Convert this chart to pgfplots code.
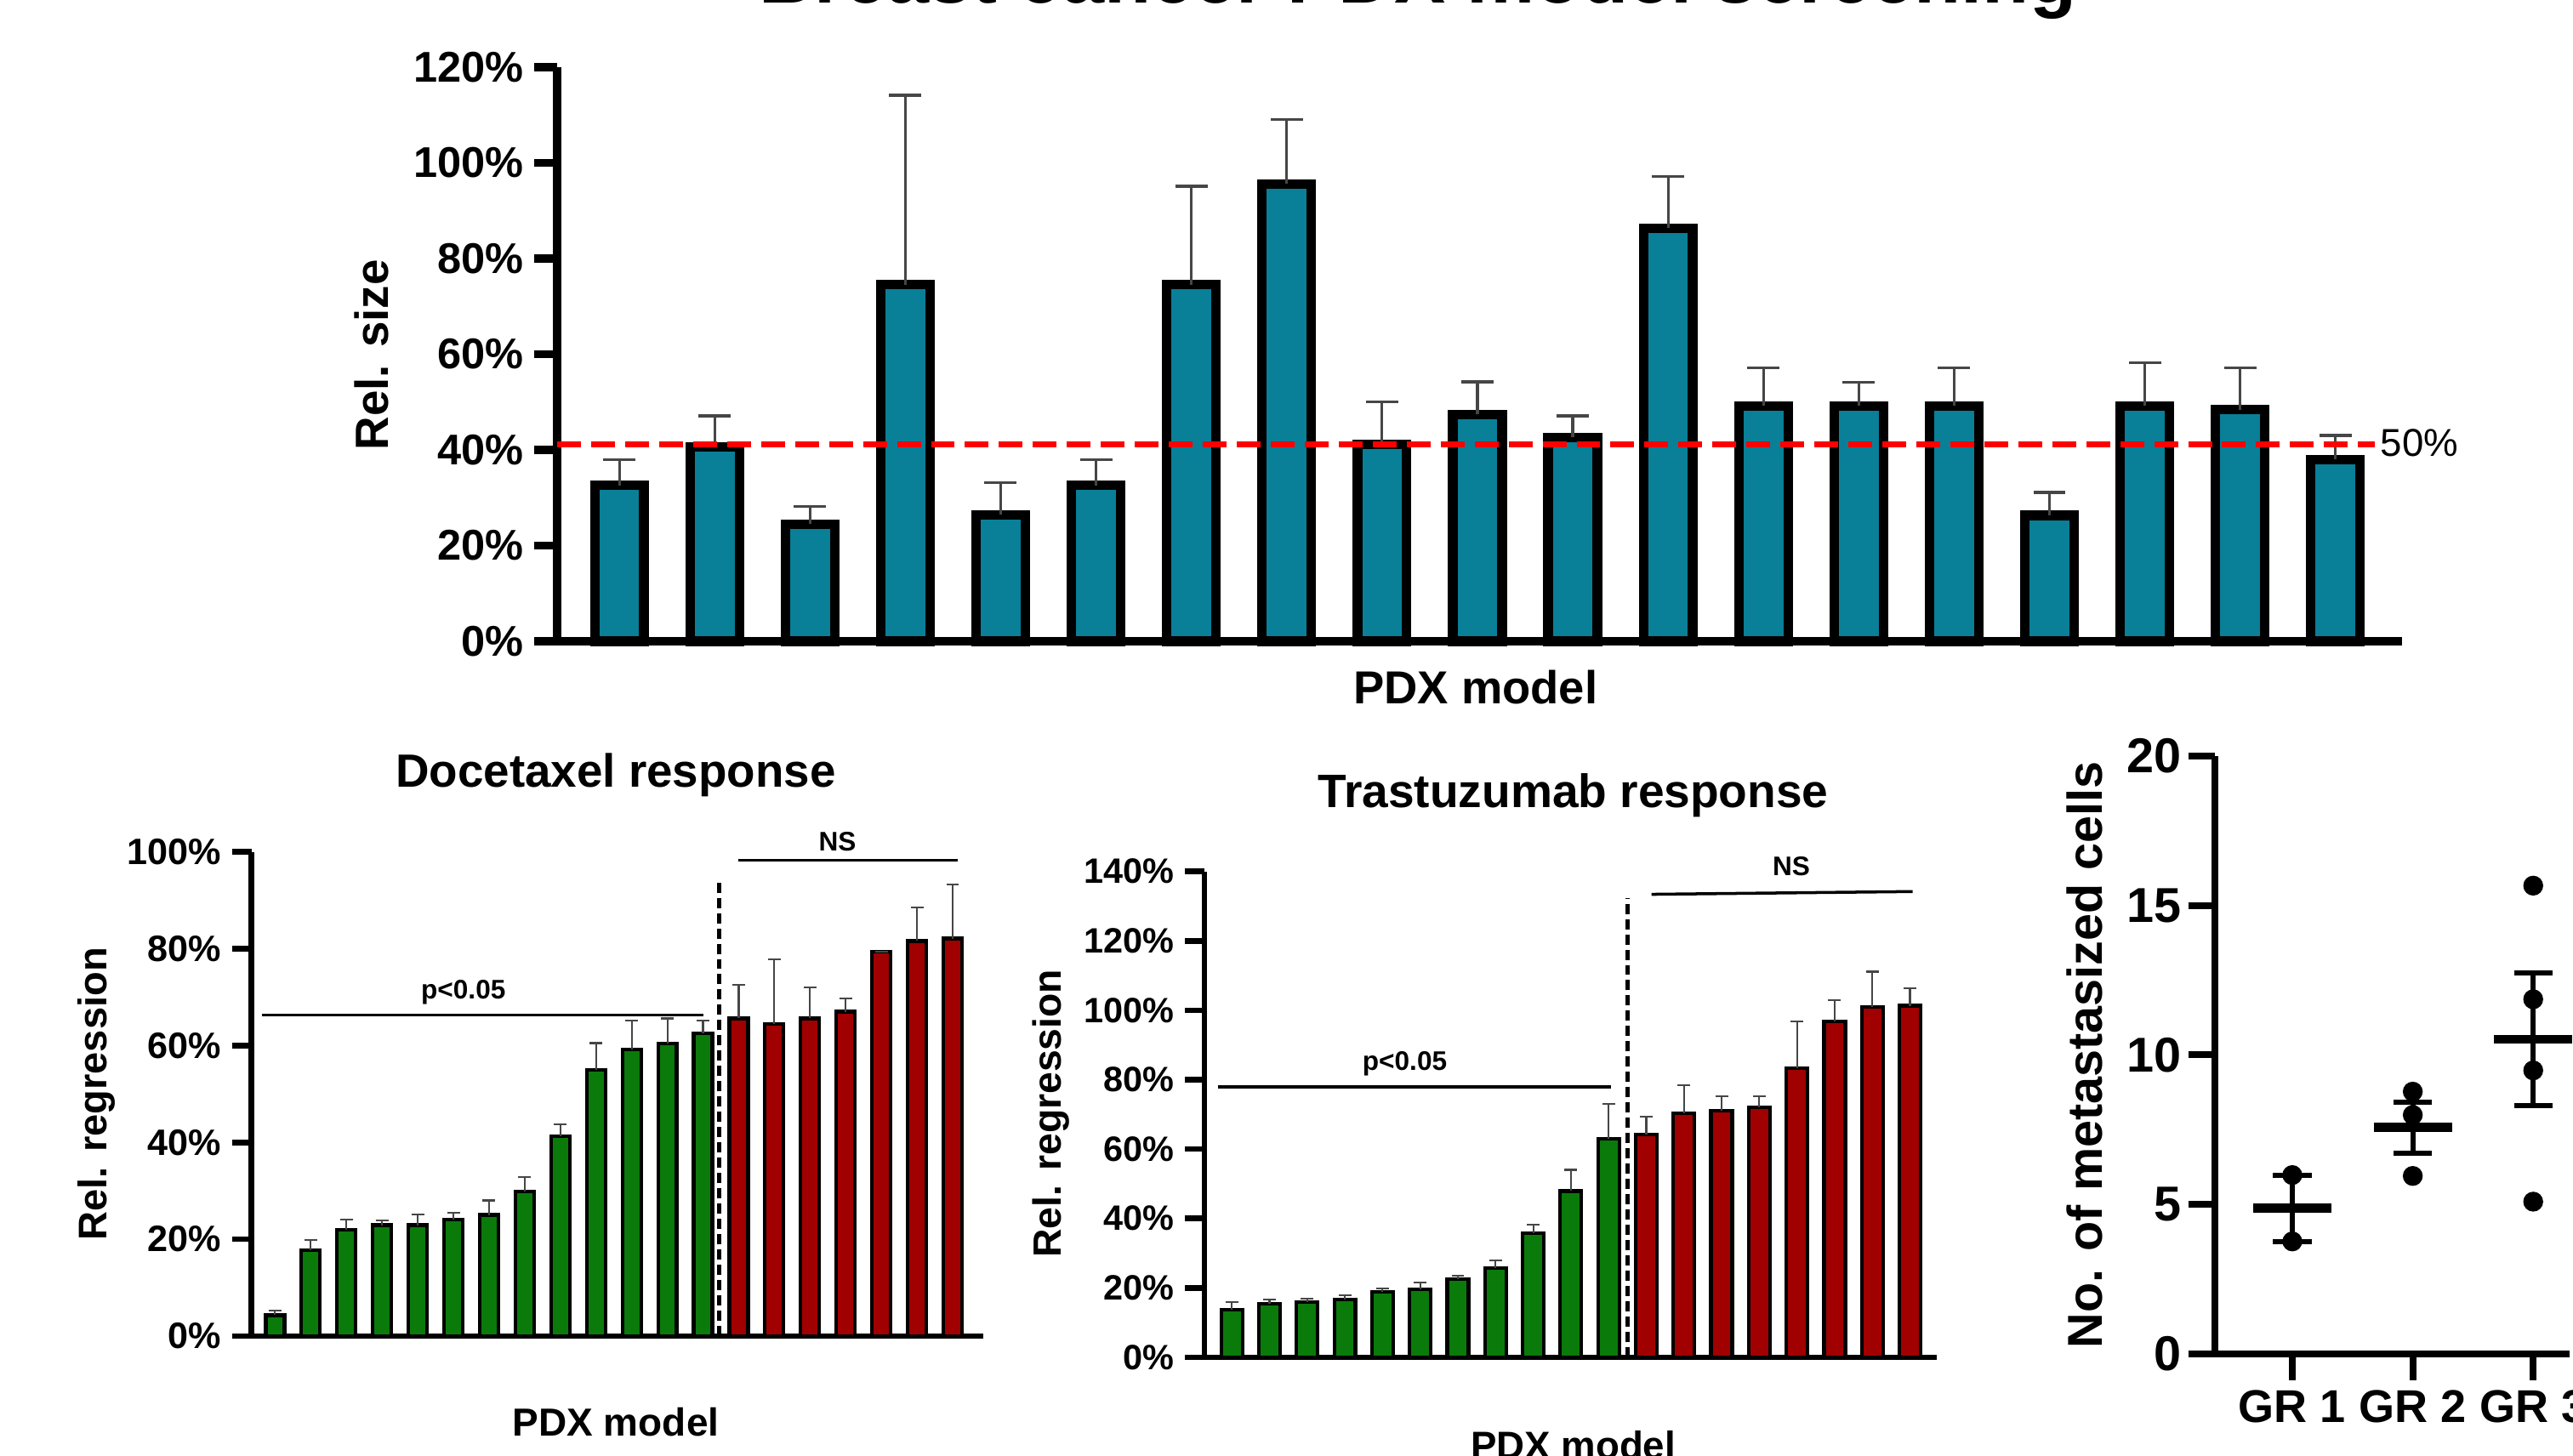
\documentclass[border=0pt]{standalone}
\usepackage{pgfplots}
\pgfplotsset{compat=1.18}
\usepackage{pgfplotstable}
\usepackage{fontspec}
\setmainfont{Liberation Sans}
\definecolor{barteal}{RGB}{9,127,152}
\definecolor{bargreen}{RGB}{10,122,10}
\definecolor{barred}{RGB}{160,0,0}
\definecolor{errgray}{RGB}{70,70,70}

\pgfplotstableread{
x y e
1 32.6 5.4
2 40.6 6.5
3 24.5 3.6
4 74.5 39.6
5 26.4 6.8
6 32.6 5.4
7 74.5 20.6
8 95.6 13.5
9 41.2 8.9
10 47.4 6.8
11 42.6 4.5
12 86.3 10.8
13 49.2 7.9
14 49.2 4.9
15 49.2 7.9
16 26.3 4.8
17 49.2 9.0
18 48.4 8.7
19 38.0 5.0
}\topdata

\pgfplotstableread{
x y e
1 4.3 0.9
2 17.7 2.1
3 21.9 2.2
4 22.9 1.0
5 22.9 2.2
6 24.1 1.4
7 25.0 3.0
8 29.8 3.1
9 41.3 2.4
10 54.9 5.6
11 59.2 5.9
12 60.4 5.2
13 62.5 2.6
}\docgreen

\pgfplotstableread{
x y e
14 65.6 6.9
15 64.4 13.4
16 65.6 6.4
17 67.0 2.8
18 79.4 0.0
19 81.6 6.9
20 82.1 11.1
}\docred

\pgfplotstableread{
x y e
1 13.7 2.2
2 15.4 1.3
3 15.9 1.0
4 16.7 1.1
5 18.9 1.0
6 19.5 2.0
7 22.5 0.9
8 25.7 2.3
9 35.8 2.4
10 47.9 6.1
11 62.9 10.0
}\trasgreen

\pgfplotstableread{
x y e
12 64.2 5.1
13 70.3 8.1
14 71.0 4.1
15 72.0 3.3
16 83.3 13.5
17 96.8 6.1
18 100.9 10.2
19 101.3 5.1
}\trasred

\pgfplotstableread{
x y
1 5.98
1 3.76
2 8.77
2 7.99
2 5.95
3 15.66
3 11.86
3 9.48
3 5.09
}\grpoints

\pgfplotstableread{
x y e
1 4.87 1.11
2 7.57 0.85
3 10.52 2.21
}\grmeans

\begin{document}
\begin{tikzpicture}
\path (0,0) rectangle (30.25,17.14);

\node[overlay, font=\bfseries\fontsize{25.7}{26}\selectfont, anchor=base] at (16.69,17.10) {Breast cancer PDX model screening};

% ---------- top panel ----------
\begin{axis}[
  at={(6.56cm,9.59cm)}, anchor=south west, scale only axis,
  width=21.72cm, height=6.76cm,
  xmin=0.349, xmax=19.70, ymin=0, ymax=120,
  axis x line*=bottom, axis y line*=left,
  axis line style={line width=2.7pt},
  xtick=\empty,
  ytick={0,20,40,60,80,100,120},
  yticklabels={0\%,20\%,40\%,60\%,80\%,100\%,120\%},
  tick align=outside, major tick length=0.27cm,
  ytick style={line width=2.7pt, black},
  yticklabel style={font=\bfseries\fontsize{14.4}{15}\selectfont},
  clip=false,
]
\addplot[ybar, bar shift=0pt, bar width=0.58cm, fill=barteal, draw=black, line width=3.2pt,
  error bars/.cd, y dir=plus, y explicit,
  error bar style={line width=0.9pt, errgray},
  error mark options={rotate=90, mark size=0.19cm, line width=0.9pt, errgray}]
  table[x=x, y=y, y error=e] {\topdata};
\draw[red, line width=2pt, dash pattern=on 0.28cm off 0.12cm] (axis cs:0.349,41.2) -- (axis cs:19.41,41.2);
\end{axis}
\node[font=\fontsize{13}{13}\selectfont, anchor=west] at (27.90,11.93) {50\%};
\node[font=\bfseries\fontsize{15.6}{16}\selectfont, rotate=90, anchor=base] at (4.57,12.96) {Rel. size};
\node[font=\bfseries\fontsize{15.5}{16}\selectfont, anchor=base] at (17.37,8.85) {PDX model};

% ---------- Docetaxel ----------
\begin{axis}[
  at={(2.96cm,1.41cm)}, anchor=south west, scale only axis,
  width=8.62cm, height=5.70cm,
  xmin=0.336, xmax=20.87, ymin=0, ymax=100,
  axis x line*=bottom, axis y line*=left,
  axis line style={line width=1.9pt},
  xtick=\empty,
  ytick={0,20,40,60,80,100},
  yticklabels={0\%,20\%,40\%,60\%,80\%,100\%},
  tick align=outside, major tick length=0.23cm,
  ytick style={line width=1.9pt, black},
  yticklabel style={font=\bfseries\fontsize{12.3}{13}\selectfont},
  clip=false,
]
\addplot[ybar, bar shift=0pt, bar width=0.22cm, fill=bargreen, draw=black, line width=1.2pt,
  error bars/.cd, y dir=plus, y explicit,
  error bar style={line width=0.6pt, errgray},
  error mark options={rotate=90, mark size=0.075cm, line width=0.6pt, errgray}]
  table[x=x, y=y, y error=e] {\docgreen};
\addplot[ybar, bar shift=0pt, bar width=0.22cm, fill=barred, draw=black, line width=1.2pt,
  error bars/.cd, y dir=plus, y explicit,
  error bar style={line width=0.6pt, errgray},
  error mark options={rotate=90, mark size=0.075cm, line width=0.6pt, errgray}]
  table[x=x, y=y, y error=e] {\docred};
\draw[black, line width=1.6pt, dash pattern=on 0.12cm off 0.06cm] (axis cs:13.45,0) -- (axis cs:13.45,94.7);
\draw[black, line width=1pt] (axis cs:0.63,66.3) -- (axis cs:13.0,66.3);
\draw[black, line width=1pt] (axis cs:13.99,98.3) -- (axis cs:20.14,98.3);
\node[font=\bfseries\fontsize{9}{9}\selectfont, anchor=base] at (axis cs:6.28,69.7) {p<0.05};
\node[font=\bfseries\fontsize{9}{9}\selectfont, anchor=base] at (axis cs:16.77,100.2) {NS};
\end{axis}
\node[font=\bfseries\fontsize{15.6}{16}\selectfont, anchor=base] at (7.25,7.875) {Docetaxel response};
\node[font=\bfseries\fontsize{13.1}{14}\selectfont, anchor=base] at (7.25,0.234) {PDX model};
\node[font=\bfseries\fontsize{13.4}{14}\selectfont, rotate=90, anchor=base] at (1.26,4.26) {Rel. regression};

% ---------- Trastuzumab ----------
\begin{axis}[
  at={(14.18cm,1.16cm)}, anchor=south west, scale only axis,
  width=8.62cm, height=5.72cm,
  xmin=0.275, xmax=19.71, ymin=0, ymax=140,
  axis x line*=bottom, axis y line*=left,
  axis line style={line width=1.9pt},
  xtick=\empty,
  ytick={0,20,40,60,80,100,120,140},
  yticklabels={0\%,20\%,40\%,60\%,80\%,100\%,120\%,140\%},
  tick align=outside, major tick length=0.23cm,
  ytick style={line width=1.9pt, black},
  yticklabel style={font=\bfseries\fontsize{11.8}{12}\selectfont},
  clip=false,
]
\addplot[ybar, bar shift=0pt, bar width=0.25cm, fill=bargreen, draw=black, line width=1.2pt,
  error bars/.cd, y dir=plus, y explicit,
  error bar style={line width=0.6pt, errgray},
  error mark options={rotate=90, mark size=0.075cm, line width=0.6pt, errgray}]
  table[x=x, y=y, y error=e] {\trasgreen};
\addplot[ybar, bar shift=0pt, bar width=0.25cm, fill=barred, draw=black, line width=1.2pt,
  error bars/.cd, y dir=plus, y explicit,
  error bar style={line width=0.6pt, errgray},
  error mark options={rotate=90, mark size=0.075cm, line width=0.6pt, errgray}]
  table[x=x, y=y, y error=e] {\trasred};
\draw[black, line width=1.6pt, dash pattern=on 0.12cm off 0.06cm] (axis cs:11.5,0) -- (axis cs:11.5,132.2);
\draw[black, line width=1pt] (axis cs:0.63,77.9) -- (axis cs:11.06,77.9);
\draw[black, line width=1pt] (axis cs:12.14,133.4) -- (axis cs:19.07,134.2);
\node[font=\bfseries\fontsize{9}{9}\selectfont, anchor=base] at (axis cs:5.59,82.7) {p<0.05};
\node[font=\bfseries\fontsize{9}{9}\selectfont, anchor=base] at (axis cs:15.85,138.7) {NS};
\end{axis}
\node[font=\bfseries\fontsize{15.7}{16}\selectfont, anchor=base] at (18.52,7.63) {Trastuzumab response};
\node[overlay, font=\bfseries\fontsize{13}{14}\selectfont, anchor=base] at (18.52,-0.04) {PDX model};
\node[font=\bfseries\fontsize{13.2}{14}\selectfont, rotate=90, anchor=base] at (12.49,4.03) {Rel. regression};

% ---------- scatter ----------
\begin{axis}[
  at={(26.07cm,1.20cm)}, anchor=south west, scale only axis,
  width=4.18cm, height=7.04cm,
  xmin=0.354, xmax=3.302, ymin=0, ymax=20,
  axis x line*=bottom, axis y line*=left,
  axis line style={line width=2.3pt},
  xtick={1,2,3}, xticklabels={GR 1,GR 2,GR 3},
  ytick={0,5,10,15,20}, yticklabels={0,5,10,15,20},
  tick align=outside, major tick length=0.31cm,
  tick style={line width=2.3pt, black},
  ticklabel style={font=\bfseries\fontsize{15.4}{16}\selectfont},
  yticklabel style={font=\bfseries\fontsize{16.4}{17}\selectfont, xshift=0.04cm},
  xticklabel style={overlay},
  clip=false,
]
\addplot[only marks, mark=*, mark size=0.11cm, black] table[x=x, y=y] {\grpoints};
\addplot[overlay, only marks, mark=-, mark size=0.46cm, mark options={line width=3pt}, black,
  error bars/.cd, y dir=both, y explicit,
  error bar style={line width=1.7pt, black},
  error mark options={rotate=90, mark size=0.226cm, line width=1.7pt, black}]
  table[x=x, y=y, y error=e] {\grmeans};
\end{axis}
\node[font=\bfseries\fontsize{16.4}{17}\selectfont, rotate=90, anchor=base] at (24.75,4.72) {No. of metastasized cells};
\end{tikzpicture}
\end{document}
